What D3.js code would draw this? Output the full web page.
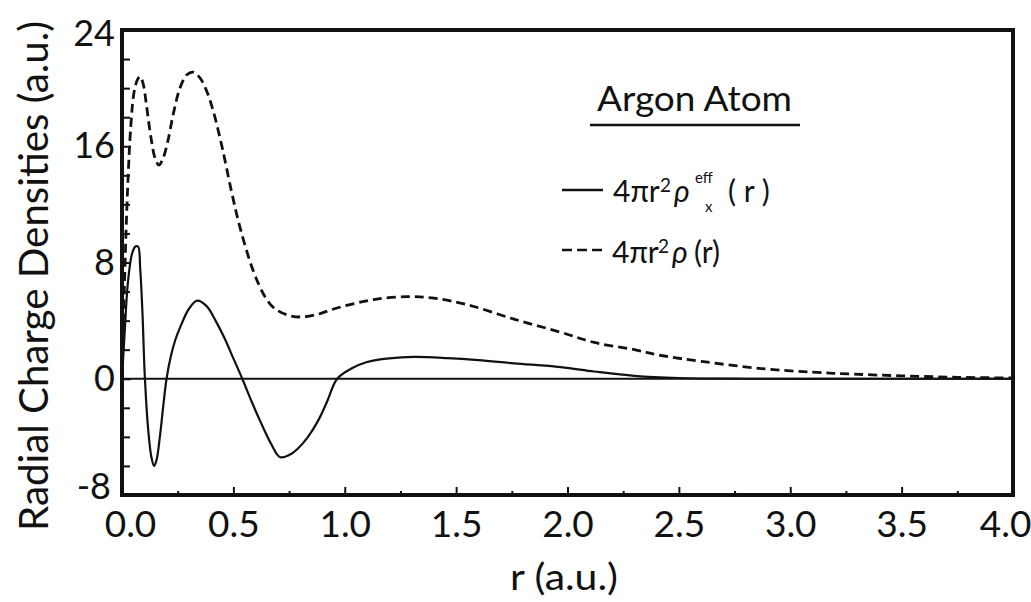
<!DOCTYPE html>
<html>
<head>
<meta charset="utf-8">
<script src="https://cdn.jsdelivr.net/npm/d3@7"></script>
<style>
  html, body { margin: 0; padding: 0; background: #fff; }
  svg { display: block; }
  text { font-family: Lato, "Open Sans", "DejaVu Sans", sans-serif; font-weight: 400; fill: #111; }
</style>
</head>
<body>
<svg id="chart" width="1031" height="602"></svg>
<script>
// Radial distance r (a.u.) and total density 4πr²ρ(r)
const rhoR = [0, 0.01, 0.025, 0.04, 0.055, 0.07, 0.081, 0.095, 0.11, 0.13, 0.15, 0.166, 0.185, 0.205, 0.23, 0.26, 0.29, 0.32, 0.35, 0.38, 0.41, 0.45, 0.49, 0.53, 0.59, 0.64, 0.68, 0.74, 0.80, 0.87, 0.95, 1.05, 1.15, 1.28, 1.4, 1.55, 1.76, 1.97, 2.12, 2.3, 2.42, 2.6, 2.87, 3.1, 3.28, 3.5, 3.75, 4.0];
const rhoV = [0, 6, 13, 17.5, 19.8, 20.6, 20.8, 20.3, 18.8, 16.6, 15.1, 14.7, 15.2, 16.3, 18.2, 20.0, 20.9, 21.1, 20.7, 19.8, 18.4, 15.9, 13.0, 10.4, 7.4, 5.7, 4.9, 4.4, 4.25, 4.4, 4.8, 5.2, 5.5, 5.65, 5.55, 5.1, 4.1, 3.2, 2.5, 2.0, 1.6, 1.2, 0.7, 0.45, 0.32, 0.2, 0.1, 0.05];

// Effective exchange density 4πr²ρx^eff(r)
const effR = [0, 0.012, 0.027, 0.045, 0.06, 0.072, 0.082, 0.092, 0.102, 0.117, 0.132, 0.144, 0.155, 0.17, 0.185, 0.2, 0.22, 0.24, 0.26, 0.3, 0.337, 0.38, 0.42, 0.46, 0.5, 0.54, 0.58, 0.62, 0.67, 0.71, 0.75, 0.79, 0.835, 0.88, 0.92, 0.966, 1.03, 1.1, 1.2, 1.31, 1.46, 1.6, 1.76, 1.97, 2.12, 2.3, 2.5, 2.8, 3.2, 3.6, 4.0];
const effV = [0, 3.2, 6.7, 8.6, 9.1, 9.1, 7.5, 4.5, 0.3, -3.4, -5.4, -6.0, -5.6, -4.0, -1.9, 0, 1.6, 2.7, 3.5, 4.8, 5.38, 5.0, 4.0, 2.8, 1.4, 0, -1.5, -2.9, -4.5, -5.4, -5.25, -4.8, -4.0, -2.9, -1.6, 0, 0.7, 1.15, 1.4, 1.5, 1.42, 1.28, 1.06, 0.8, 0.5, 0.2, 0.05, 0, 0, 0, 0];

// Axis ticks
const xMajor = [0, 0.5, 1.0, 1.5, 2.0, 2.5, 3.0, 3.5, 4.0];
const xMinor = [0.25, 0.75, 1.25, 1.75, 2.25, 2.75, 3.25, 3.75];
const yLabelled = [24, 16, 8, 0, -8];
const yMinor = [22, 20, 18, 14, 12, 10, 6, 4, 2, -2, -4, -6];

const svg = d3.select("#chart");
const x = d3.scaleLinear().domain([0, 4]).range([122, 1013]);
const y = d3.scaleLinear().domain([-8, 24]).range([495, 30]);

// ticks pointing into the plot
const xAxisMajor = d3.axisBottom(x).tickValues(xMajor).tickSize(-8).tickPadding(16)
  .tickFormat(d => d.toFixed(1));
const xAxisMinor = d3.axisBottom(x).tickValues(xMinor).tickSize(-4).tickFormat("");
const yAxisMajor = d3.axisLeft(y).tickValues(yLabelled).tickSize(-9).tickPadding(7)
  .tickFormat(d => String(d));
const yAxisMinor = d3.axisLeft(y).tickValues(yMinor).tickSize(-8).tickFormat("");

function styleAxis(g) {
  g.select(".domain").remove();
  g.selectAll("line").attr("stroke", "#111").attr("stroke-width", 2);
}

svg.append("g").attr("transform", `translate(0,${y(-8)})`).call(xAxisMinor).call(styleAxis);
const gx = svg.append("g").attr("transform", `translate(0,${y(-8)})`).call(xAxisMajor).call(styleAxis);
gx.selectAll("text").attr("font-size", 37).attr("fill", "#111")
  .attr("font-family", "Lato, 'Open Sans', sans-serif").attr("font-weight", 400);
gx.selectAll(".tick").filter(d => d === 4).select("text").attr("text-anchor", "end").attr("dx", 18);
gx.selectAll(".tick").filter(d => d === 0).select("text").attr("dx", 8);

svg.append("g").attr("transform", `translate(${x(0)},0)`).call(yAxisMinor).call(styleAxis);
const gy = svg.append("g").attr("transform", `translate(${x(0)},0)`).call(yAxisMajor).call(styleAxis);
gy.selectAll("text").attr("font-size", 36).attr("fill", "#111")
  .attr("font-family", "Lato, 'Open Sans', sans-serif").attr("font-weight", 400);
gy.selectAll(".tick").filter(d => d === -8).select("text").attr("dy", "0.1em").attr("dx", -4);
gy.selectAll(".tick").filter(d => d === 24).select("text").attr("dy", "0.42em");

// zero reference line
svg.append("line")
  .attr("x1", x(0)).attr("x2", x(4))
  .attr("y1", y(0)).attr("y2", y(0))
  .attr("stroke", "#111").attr("stroke-width", 2.2);

const line = d3.line().x(d => x(d[0])).y(d => y(d[1])).curve(d3.curveCatmullRom.alpha(0.5));

// total density, dashed
svg.append("path")
  .datum(d3.zip(rhoR, rhoV))
  .attr("d", line)
  .attr("fill", "none").attr("stroke", "#111").attr("stroke-width", 2.8)
  .attr("stroke-dasharray", "9,5");

// effective exchange density, solid
svg.append("path")
  .datum(d3.zip(effR, effV))
  .attr("d", line)
  .attr("fill", "none").attr("stroke", "#111").attr("stroke-width", 2.2);

// frame
svg.append("rect")
  .attr("x", x(0)).attr("y", y(24))
  .attr("width", x(4) - x(0)).attr("height", y(-8) - y(24))
  .attr("fill", "none").attr("stroke", "#111").attr("stroke-width", 4);

// axis titles
svg.append("text")
  .attr("transform", "translate(48,276) rotate(-90)")
  .attr("text-anchor", "middle")
  .attr("font-size", 41)
  .attr("textLength", 510).attr("lengthAdjust", "spacingAndGlyphs")
  .text("Radial Charge Densities (a.u.)");

svg.append("text")
  .attr("x", 564).attr("y", 590)
  .attr("text-anchor", "middle")
  .attr("font-size", 37)
  .attr("textLength", 108).attr("lengthAdjust", "spacingAndGlyphs")
  .text("r (a.u.)");

// legend
svg.append("text")
  .attr("x", 597).attr("y", 111)
  .attr("font-size", 35)
  .attr("textLength", 195).attr("lengthAdjust", "spacingAndGlyphs")
  .text("Argon Atom");
svg.append("line")
  .attr("x1", 590).attr("x2", 800).attr("y1", 125).attr("y2", 125)
  .attr("stroke", "#111").attr("stroke-width", 2.5);

const leg = svg.append("g");
leg.append("line").attr("x1", 562).attr("x2", 603).attr("y1", 190).attr("y2", 190)
  .attr("stroke", "#111").attr("stroke-width", 2.4);
leg.append("text").attr("x", 613).attr("y", 202).attr("font-size", 30).text("4πr");
leg.append("text").attr("x", 660).attr("y", 192).attr("font-size", 19).text("2");
leg.append("text").attr("x", 674).attr("y", 202).attr("font-size", 30).attr("font-style", "italic").text("ρ");
leg.append("text").attr("x", 695).attr("y", 183).attr("font-size", 15).attr("font-weight", "bold").text("eff");
leg.append("text").attr("x", 705).attr("y", 212).attr("font-size", 15).attr("font-weight", "bold").text("x");
leg.append("text").attr("x", 728).attr("y", 202).attr("font-size", 30).text("( r )");

leg.append("line").attr("x1", 562).attr("x2", 602).attr("y1", 250).attr("y2", 250)
  .attr("stroke", "#111").attr("stroke-width", 2.4).attr("stroke-dasharray", "10,5");
leg.append("text").attr("x", 612).attr("y", 263).attr("font-size", 30).text("4πr");
leg.append("text").attr("x", 658).attr("y", 253).attr("font-size", 19).text("2");
leg.append("text").attr("x", 672).attr("y", 263).attr("font-size", 30).attr("font-style", "italic").text("ρ");
leg.append("text").attr("x", 694).attr("y", 263).attr("font-size", 30).text("(r)");
</script>
</body>
</html>
